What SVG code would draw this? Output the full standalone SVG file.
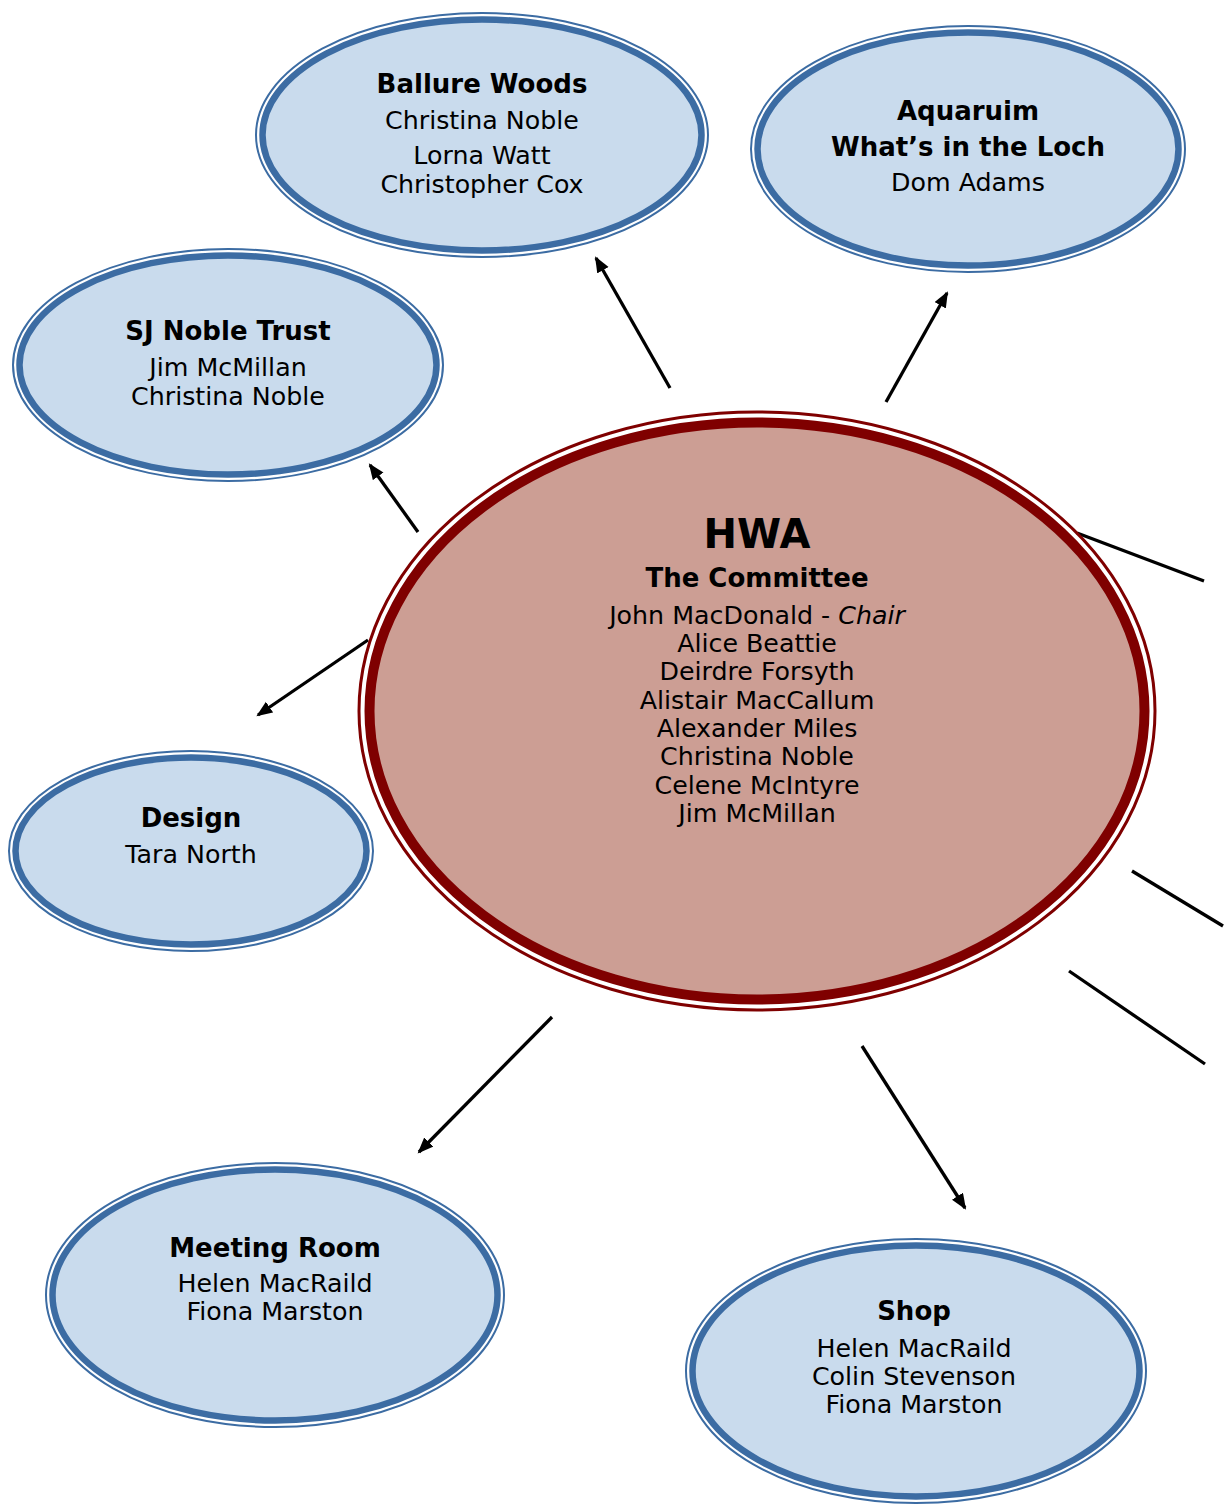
<svg xmlns="http://www.w3.org/2000/svg" width="1226" height="1504" viewBox="0 0 1226 1504">
<style>
.bo{fill:none;stroke:#3c6ca3;stroke-width:2}
.bi{fill:#c9dbed;stroke:#3c6ca3;stroke-width:6.5}
.ro{fill:none;stroke:#7f0000;stroke-width:3}
.ri{fill:#cc9e94;stroke:#7f0000;stroke-width:10}
text{font-family:"DejaVu Sans",Verdana,sans-serif;font-size:25.3px;fill:#000;text-anchor:middle}
.b{font-weight:bold;font-size:26px}
.c{stroke:#000;stroke-width:3.3;fill:none}
</style>
<defs>
<marker id="ah" markerUnits="userSpaceOnUse" markerWidth="18" markerHeight="14" refX="14" refY="6.5" orient="auto">
<path d="M0,0 L16,6.5 L0,13 Z" fill="#000"/>
</marker>
</defs>
<g id="connectors">
<line class="c" x1="670" y1="388" x2="596" y2="258" marker-end="url(#ah)"/>
<line class="c" x1="886" y1="402" x2="947" y2="293" marker-end="url(#ah)"/>
<line class="c" x1="418" y1="532" x2="370" y2="465" marker-end="url(#ah)"/>
<line class="c" x1="368" y1="640" x2="258" y2="715" marker-end="url(#ah)"/>
<line class="c" x1="552" y1="1017" x2="419" y2="1152" marker-end="url(#ah)"/>
<line class="c" x1="862" y1="1046" x2="965" y2="1208" marker-end="url(#ah)"/>
<line class="c" x1="1077" y1="533" x2="1204" y2="581"/>
<line class="c" x1="1132" y1="871" x2="1223" y2="926"/>
<line class="c" x1="1069" y1="971" x2="1205" y2="1064"/>
</g>
<g id="ballure">
<ellipse class="bo" cx="482" cy="135" rx="226" ry="122"/>
<ellipse class="bi" cx="482" cy="135" rx="219.5" ry="115.5"/>
<text class="b" x="482" y="93">Ballure Woods</text>
<text x="482" y="129">Christina Noble</text>
<text x="482" y="164">Lorna Watt</text>
<text x="482" y="193">Christopher Cox</text>
</g>
<g id="aquarium">
<ellipse class="bo" cx="968" cy="149" rx="217" ry="123"/>
<ellipse class="bi" cx="968" cy="149" rx="210.5" ry="116.5"/>
<text class="b" x="968" y="120">Aquaruim</text>
<text class="b" x="968" y="156">What’s in the Loch</text>
<text x="968" y="191">Dom Adams</text>
</g>
<g id="sjnoble">
<ellipse class="bo" cx="228" cy="365" rx="215" ry="116"/>
<ellipse class="bi" cx="228" cy="365" rx="208.5" ry="109.5"/>
<text class="b" x="228" y="340">SJ Noble Trust</text>
<text x="228" y="376">Jim McMillan</text>
<text x="228" y="405">Christina Noble</text>
</g>
<g id="design">
<ellipse class="bo" cx="191" cy="851" rx="182" ry="100"/>
<ellipse class="bi" cx="191" cy="851" rx="175.5" ry="93.5"/>
<text class="b" x="191" y="827">Design</text>
<text x="191" y="863">Tara North</text>
</g>
<g id="hwa">
<ellipse class="ro" cx="757" cy="711" rx="398" ry="299"/>
<ellipse class="ri" cx="757" cy="711" rx="387.5" ry="288.5"/>
<text class="b" x="757" y="548" style="font-size:40px">HWA</text>
<text class="b" x="757" y="587">The Committee</text>
<text x="757" y="624">John MacDonald - <tspan font-style="italic">Chair</tspan></text>
<text x="757" y="652">Alice Beattie</text>
<text x="757" y="680">Deirdre Forsyth</text>
<text x="757" y="709">Alistair MacCallum</text>
<text x="757" y="737">Alexander Miles</text>
<text x="757" y="765">Christina Noble</text>
<text x="757" y="794">Celene McIntyre</text>
<text x="757" y="822">Jim McMillan</text>
</g>
<g id="meeting">
<ellipse class="bo" cx="275" cy="1295" rx="229" ry="132"/>
<ellipse class="bi" cx="275" cy="1295" rx="222.5" ry="125.5"/>
<text class="b" x="275" y="1257">Meeting Room</text>
<text x="275" y="1292">Helen MacRaild</text>
<text x="275" y="1320">Fiona Marston</text>
</g>
<g id="shop">
<ellipse class="bo" cx="916" cy="1371" rx="230" ry="132"/>
<ellipse class="bi" cx="916" cy="1371" rx="223.5" ry="125.5"/>
<text class="b" x="914" y="1320">Shop</text>
<text x="914" y="1357">Helen MacRaild</text>
<text x="914" y="1385">Colin Stevenson</text>
<text x="914" y="1413">Fiona Marston</text>
</g>
</svg>
